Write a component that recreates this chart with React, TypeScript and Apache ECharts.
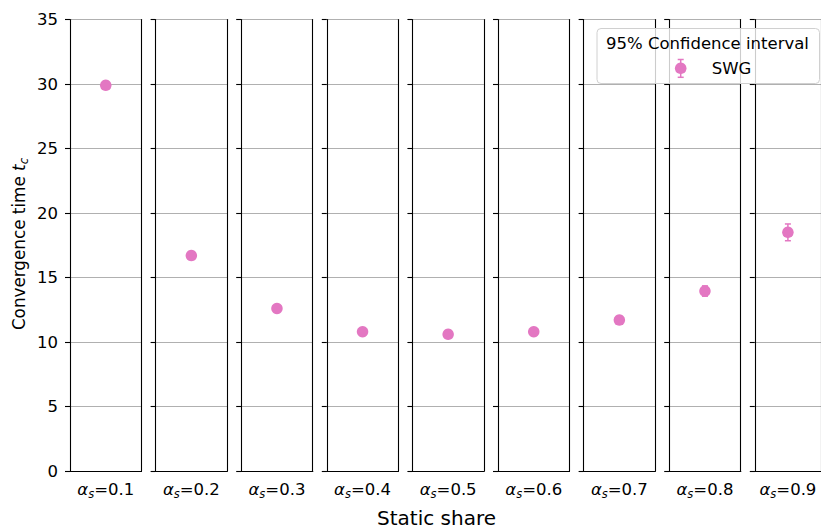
import React, { useEffect, useRef } from "react";
import * as echarts from "echarts";

const categories = ["0.1", "0.2", "0.3", "0.4", "0.5", "0.6", "0.7", "0.8", "0.9"];
const means = [29.9, 16.7, 12.6, 10.8, 10.6, 10.8, 11.7, 13.95, 18.5];
const ciHalf = [0.25, 0.3, 0.2, 0.18, 0.18, 0.18, 0.2, 0.4, 0.65];
const yMin = 0;
const yMax = 35;
const yInterval = 5;
const seriesName = "SWG";
const legendTitle = "95% Confidence interval";
const xTitle = "Static share";

const FONT = "DejaVu Sans";
const PINK = "#e377c2";

export default function App() {
  const ref = useRef<HTMLDivElement>(null);

  useEffect(() => {
    if (!ref.current) return;
    const chart = echarts.init(ref.current, undefined, { renderer: "svg" });

    const grids: any[] = [];
    const xAxes: any[] = [];
    const yAxes: any[] = [];
    const series: any[] = [];
    const step = 85.6;
    const panelW = 71.5;
    const top = 19.5;
    const height = 451.5;

    categories.forEach((cat, i) => {
      grids.push({ left: 70 + i * step, top, width: panelW, height, containLabel: false });
      xAxes.push({
        type: "category",
        gridIndex: i,
        data: [cat],
        boundaryGap: true,
        z: 5,
        axisLine: { show: true, lineStyle: { color: "#000", width: 1.1 } },
        axisTick: { show: false },
        splitLine: { show: false },
        axisLabel: {
          show: true,
          margin: 7,
          formatter: (v: string) => `{a|α}{s|s}{n|=${v}}`,
          rich: {
            a: { fontFamily: FONT, fontStyle: "italic", fontSize: 16.5, color: "#000", lineHeight: 22, verticalAlign: "middle" },
            s: { fontFamily: FONT, fontStyle: "italic", fontSize: 11.5, color: "#000", lineHeight: 12, verticalAlign: "bottom" },
            n: { fontFamily: FONT, fontSize: 16.5, color: "#000", lineHeight: 22, verticalAlign: "middle" },
          },
        },
      });
      xAxes.push({
        type: "category",
        gridIndex: i,
        position: "top",
        data: [cat],
        z: 5,
        axisLine: { show: true, lineStyle: { color: "#000", width: 1.1 } },
        axisTick: { show: false },
        axisLabel: { show: false },
        splitLine: { show: false },
      });
      yAxes.push({
        type: "value",
        gridIndex: i,
        min: yMin,
        max: yMax,
        interval: yInterval,
        z: 1,
        axisLine: { show: true, lineStyle: { color: "#000", width: 1.1 } },
        axisTick: { show: true, inside: false, length: 5, lineStyle: { color: "#000", width: 1.1 } },
        axisLabel: {
          show: i === 0,
          margin: 12,
          fontFamily: FONT,
          fontSize: 16.5,
          color: "#000",
        },
        splitLine: { show: true, lineStyle: { color: "#b0b0b0", width: 1.1 } },
      });
      yAxes.push({
        type: "value",
        gridIndex: i,
        position: "right",
        min: yMin,
        max: yMax,
        interval: yInterval,
        z: 5,
        axisLine: { show: true, lineStyle: { color: "#000", width: 1.1 } },
        axisTick: { show: false },
        axisLabel: { show: false },
        splitLine: { show: false },
      });

      series.push({
        type: "custom",
        name: seriesName,
        xAxisIndex: 2 * i,
        yAxisIndex: 2 * i,
        z: 8,
        data: [[0, means[i] - ciHalf[i], means[i] + ciHalf[i]]],
        encode: { x: 0, y: [1, 2] },
        renderItem: (params: any, api: any) => {
          const lo = api.coord([api.value(0), api.value(1)]);
          const hi = api.coord([api.value(0), api.value(2)]);
          const cw = 3;
          const style = { stroke: PINK, lineWidth: 1.5 };
          return {
            type: "group",
            children: [
              { type: "line", shape: { x1: lo[0], y1: lo[1], x2: hi[0], y2: hi[1] }, style },
              { type: "line", shape: { x1: lo[0] - cw, y1: lo[1], x2: lo[0] + cw, y2: lo[1] }, style },
              { type: "line", shape: { x1: hi[0] - cw, y1: hi[1], x2: hi[0] + cw, y2: hi[1] }, style },
            ],
          };
        },
      });
      series.push({
        type: "scatter",
        name: seriesName,
        xAxisIndex: 2 * i,
        yAxisIndex: 2 * i,
        z: 9,
        symbol: "circle",
        symbolSize: 11.5,
        itemStyle: { color: PINK, opacity: 1 },
        data: [[0, means[i]]],
      });
    });

    const legendX = 597;
    const legendY = 28.5;
    const graphic: any[] = [
      {
        type: "text",
        x: 19,
        y: 244,
        rotation: Math.PI / 2,
        style: {
          text: "{n|Convergence time }{t|t}{c|c}",
          align: "center",
          verticalAlign: "middle",
          rich: {
            n: { fontFamily: FONT, fontSize: 16.8, fill: "#000", lineHeight: 22, verticalAlign: "middle" },
            t: { fontFamily: FONT, fontStyle: "italic", fontSize: 16.8, fill: "#000", lineHeight: 22, verticalAlign: "middle" },
            c: { fontFamily: FONT, fontStyle: "italic", fontSize: 11.7, fill: "#000", lineHeight: 12, verticalAlign: "bottom" },
          },
        },
      },
      {
        type: "text",
        x: 436.5,
        y: 518,
        style: {
          text: xTitle,
          fontFamily: FONT,
          fontSize: 20,
          lineHeight: 18,
          fill: "#000",
          align: "center",
          verticalAlign: "middle",
        },
      },
      {
        type: "group",
        z: 100,
        children: [
          {
            type: "rect",
            shape: { x: legendX, y: legendY, width: 222.5, height: 55, r: 4 },
            style: { fill: "rgba(255,255,255,0.8)", stroke: "#d0d0d0", lineWidth: 1 },
            z: 100,
          },
          {
            type: "text",
            x: 707.5,
            y: 43.5,
            z: 101,
            style: { text: legendTitle, fontFamily: FONT, fontSize: 16.5, fill: "#000", align: "center", verticalAlign: "middle" },
          },
          { type: "line", z: 101, shape: { x1: 680.7, y1: 59.5, x2: 680.7, y2: 77.3 }, style: { stroke: PINK, lineWidth: 1.5 } },
          { type: "line", z: 101, shape: { x1: 677.7, y1: 59.5, x2: 683.7, y2: 59.5 }, style: { stroke: PINK, lineWidth: 1.5 } },
          { type: "line", z: 101, shape: { x1: 677.7, y1: 77.3, x2: 683.7, y2: 77.3 }, style: { stroke: PINK, lineWidth: 1.5 } },
          { type: "circle", z: 102, shape: { cx: 680.7, cy: 68.3, r: 5.8 }, style: { fill: PINK } },
          {
            type: "text",
            x: 711.7,
            y: 68.3,
            z: 101,
            style: { text: seriesName, fontFamily: FONT, fontSize: 16.5, fill: "#000", align: "left", verticalAlign: "middle" },
          },
        ],
      },
    ];

    chart.setOption({
      animation: false,
      backgroundColor: "#ffffff",
      textStyle: { fontFamily: FONT },
      grid: grids,
      xAxis: xAxes,
      yAxis: yAxes,
      series,
      graphic,
    });

    return () => chart.dispose();
  }, []);

  return (
    <div
      ref={ref}
      style={{ position: "absolute", left: 0, top: 0, width: 821, height: 529 }}
    />
  );
}
